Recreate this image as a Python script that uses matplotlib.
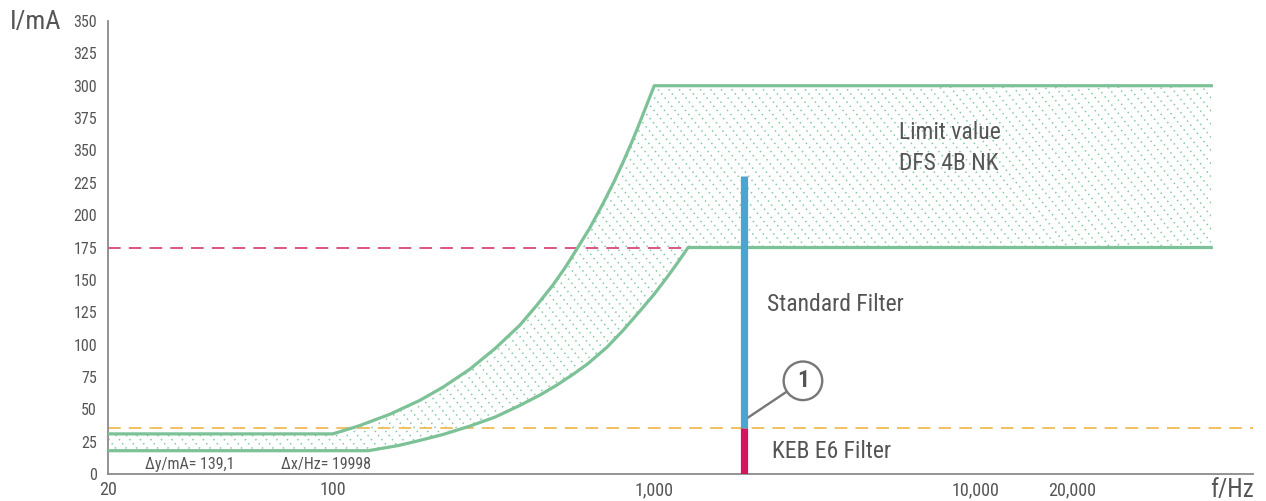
import numpy as np
import matplotlib
matplotlib.use('Agg')
import matplotlib.pyplot as plt
from matplotlib.collections import LineCollection

plt.rcParams['font.family'] = ['Roboto Condensed', 'Roboto', 'DejaVu Sans']

# limit curve DFS 4B NK
upper_f = [20, 100, 120, 150, 187, 220, 267, 320, 382, 430, 484, 530, 575,
           630, 693, 750, 800, 850, 883, 940, 1000, 54000]
upper_i = [31, 31, 37, 46, 57, 67, 81, 97, 115, 130, 146, 160, 174,
           190, 209, 226, 241, 256, 266, 283, 300, 300]
lower_f = [20, 129, 160, 187, 220, 267, 320, 382, 441, 500, 559, 620, 713,
           800, 903, 1000, 1096, 1180, 1274, 54000]
lower_i = [18, 18, 22, 26, 30.5, 37, 44, 53, 61, 69, 77, 85, 98,
           111, 126, 139, 152, 163, 175, 175]

# filters at the measuring frequency
filter_f = 1900
keb_i = 35.9
standard_i = 230
limit_i = 175

x_ticks = [20, 100, 1000, 10000, 20000]
x_labels = ['20', '100', '1,000', '10,000', '20,000']
y_ticks = list(range(0, 351, 25))
y_labels = ['0', '25', '50', '75', '100', '125', '150', '175', '200', '225',
            '350', '375', '300', '325', '350']

green = '#7dc197'
hatch_green = '#86c99f'
grey_txt = '#555555'
axis_grey = '#8a8a8a'

W, H = 12.66, 5.01
fig = plt.figure(figsize=(W, H), dpi=100)
ax = fig.add_axes([108 / 1266, 1 - 474 / 501, (1253 - 108) / 1266, (474 - 21) / 501])
ax.set_xscale('log')
ax.set_xlim(20, 72800)
ax.set_ylim(0, 350)

# filled area between the two limit curves, hatched with dotted diagonals
poly = ax.fill(np.concatenate([upper_f, lower_f[::-1]]),
               np.concatenate([upper_i, lower_i[::-1]]),
               facecolor='none', edgecolor='none')[0]
segs = []
slope = 1.25
for c in np.arange(-6, W + 6, 0.105):
    segs.append([(c, -0.5), (c - (H + 1) / slope, H + 0.5)])
lc = LineCollection(segs, colors=hatch_green, linewidths=1.15,
                    linestyles=[(0, (0.9, 2.4))], transform=fig.dpi_scale_trans)
ax.add_collection(lc, autolim=False)
lc.set_clip_path(poly)

# reference dashed lines
ax.plot([20, lower_f[-2]], [limit_i, limit_i], color='#d9487a', lw=1.3,
        dashes=(7, 4.5), zorder=2)
ax.axhline(keb_i, color='#f0bb55', lw=1.3, dashes=(7, 4.5), zorder=2)

ax.plot(upper_f, upper_i, color=green, lw=2.3, zorder=3)
ax.plot(lower_f, lower_i, color=green, lw=2.3, zorder=3)

# filter bars
ax.plot([filter_f, filter_f], [keb_i, standard_i], color='#4aa5d0', lw=5.2,
        solid_capstyle='butt', zorder=4)
ax.plot([filter_f, filter_f], [0, keb_i], color='#d6145b', lw=5.2,
        solid_capstyle='butt', zorder=4)

# callout 1
ax.annotate('1', xy=(filter_f * 1.02, keb_i + 7), xytext=(2900, 72),
            ha='center', va='center', fontsize=17, fontweight='bold', color=grey_txt,
            bbox=dict(boxstyle='circle,pad=0.33', fc='white', ec='#777777', lw=1.7),
            arrowprops=dict(arrowstyle='-', color='#777777', lw=1.7, shrinkA=0, shrinkB=0))

ax.text(5770, 252, 'Limit value\nDFS 4B NK', fontsize=17, color=grey_txt,
        va='center', ha='left', linespacing=1.45)
ax.text(2240, 131, 'Standard Filter', fontsize=17, color=grey_txt, va='center')
ax.text(2320, 17, 'KEB E6 Filter', fontsize=17, color=grey_txt, va='center')
ax.text(26, 7.5, 'Δy/mA= 139,1', fontsize=11.5, color=grey_txt, va='center')
ax.text(69, 7.5, 'Δx/Hz= 19998', fontsize=11.5, color=grey_txt, va='center')

ax.set_xticks(x_ticks)
ax.set_xticklabels(x_labels)
ax.xaxis.set_minor_locator(matplotlib.ticker.NullLocator())
ax.set_yticks(y_ticks)
ax.set_yticklabels(y_labels)
ax.tick_params(axis='x', length=0, pad=5, labelsize=13, colors=grey_txt)
ax.tick_params(axis='y', length=0, pad=8, labelsize=11.5, colors=grey_txt)

for s in ['top', 'right']:
    ax.spines[s].set_visible(False)
for s in ['left', 'bottom']:
    ax.spines[s].set_color(axis_grey)
    ax.spines[s].set_linewidth(1.3)

fig.text(10 / 1266, 1 - 22 / 501, 'I/mA', fontsize=19, color=grey_txt, va='center', ha='left')
fig.text(1254 / 1266, 1 - 490 / 501, 'f/Hz', fontsize=18, color=grey_txt, va='center', ha='right')

fig.savefig('out.png', dpi=100)
